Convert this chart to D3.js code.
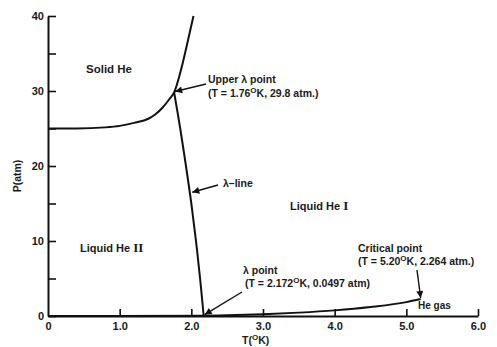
<!DOCTYPE html>
<html lang="en">
<head>
<meta charset="UTF-8">
<title>Helium phase diagram</title>
<script src="https://d3js.org/d3.v7.min.js"></script>
<style>
  body { margin: 0; background: #fff; }
  svg text { font-family: "Liberation Sans", Arial, sans-serif; font-weight: bold; fill: #1a1a1a; }
</style>
</head>
<body>
<svg id="chart" width="497" height="347"></svg>
<script>
// melting curve (solid / liquid), T in K, P in atm
var meltT = [0, 0.4, 0.8, 1.0, 1.2, 1.4, 1.5, 1.6, 1.7, 1.76, 1.85, 1.94, 2.03];
var meltP = [25.0, 25.0, 25.15, 25.35, 25.75, 26.3, 26.9, 27.8, 29.0, 29.8, 32.6, 36.2, 40.0];
// lambda line
var lamT = [1.76, 1.845, 1.925, 2.0, 2.065, 2.122, 2.172];
var lamP = [29.8, 25.0, 20.0, 15.0, 10.0, 5.0, 0.05];
// vapour pressure curve up to the critical point
var vapT = [0, 2.172, 2.5, 3.0, 3.5, 4.0, 4.5, 5.0, 5.2];
var vapP = [0, 0.05, 0.1, 0.24, 0.45, 0.75, 1.2, 1.85, 2.264];

var xTicks = [0, 1, 2, 3, 4, 5, 6];
var xLabels = ["0", "1.0", "2.0", "3.0", "4.0", "5.0", "6.0"];
var yTicks = [0, 5, 10, 15, 20, 25, 30, 35, 40];

var svg = d3.select("#chart");
var x = d3.scaleLinear().domain([0, 6]).range([48, 478]);
var y = d3.scaleLinear().domain([0, 40]).range([316, 16]);

// axes, ticks point inward
var xAxis = d3.axisBottom(x)
  .tickValues(xTicks)
  .tickSizeInner(-7).tickSizeOuter(0).tickPadding(6)
  .tickFormat(function(d, i) { return xLabels[i]; });
var yAxis = d3.axisLeft(y)
  .tickValues(yTicks)
  .tickSizeInner(-8).tickSizeOuter(0).tickPadding(4)
  .tickFormat(function(d) { return d % 10 === 0 ? d : ""; });

var gx = svg.append("g").attr("transform", "translate(0," + y(0) + ")").call(xAxis);
var gy = svg.append("g").attr("transform", "translate(" + x(0) + ",0)").call(yAxis);
[gx, gy].forEach(function(g) {
  g.select(".domain").attr("stroke", "#111").attr("stroke-width", 2);
  g.selectAll(".tick line").attr("stroke", "#111").attr("stroke-width", 1.6);
  g.selectAll(".tick text").attr("font-size", 11).attr("font-family", null).attr("fill", null);
});
gx.selectAll(".tick").filter(function(d) { return d === 0; }).select("line").remove();

// curves
var line = d3.line().x(function(d) { return x(d[0]); }).y(function(d) { return y(d[1]); })
  .curve(d3.curveMonotoneX);
function pairs(a, b) { return a.map(function(v, i) { return [v, b[i]]; }); }

svg.append("path").datum(pairs(meltT, meltP)).attr("d", line)
  .attr("fill", "none").attr("stroke", "#111").attr("stroke-width", 2);
svg.append("path").datum(pairs(lamT, lamP))
  .attr("d", d3.line().x(function(d) { return x(d[0]); }).y(function(d) { return y(d[1]); }).curve(d3.curveCatmullRom))
  .attr("fill", "none").attr("stroke", "#111").attr("stroke-width", 2);
svg.append("path").datum(pairs(vapT, vapP)).attr("d", line)
  .attr("fill", "none").attr("stroke", "#111").attr("stroke-width", 2);

// arrow marker
svg.append("defs").append("marker")
  .attr("id", "head").attr("viewBox", "0 0 10 10").attr("refX", 10).attr("refY", 5)
  .attr("markerWidth", 9).attr("markerHeight", 7).attr("markerUnits", "userSpaceOnUse")
  .attr("orient", "auto")
  .append("path").attr("d", "M0,0L10,5L0,10z").attr("fill", "#111");

function arrow(x1, y1, x2, y2) {
  svg.append("line").attr("x1", x1).attr("y1", y1).attr("x2", x2).attr("y2", y2)
    .attr("stroke", "#111").attr("stroke-width", 1.4).attr("marker-end", "url(#head)");
}

// text with a superscript O for degrees
function label(xp, yp, parts, size) {
  var t = svg.append("text").attr("x", xp).attr("y", yp).attr("font-size", size || 10.5);
  var back = 0;
  parts.forEach(function(p) {
    var s;
    if (typeof p === "string") s = t.append("tspan").text(p);
    else if (p.sup) { s = t.append("tspan").attr("font-size", 8).text(p.sup); s.attr("dy", -4); back = 4; return; }
    else if (p.serif) s = t.append("tspan").attr("font-family", "'Liberation Serif', serif").attr("font-size", 13).text(p.serif);
    if (back) { s.attr("dy", back); back = 0; }
  });
  return t;
}

label(86, 73, ["Solid  He"], 11.5);
label(208, 83, ["Upper  λ  point"]);
label(208, 97, ["(T = 1.76", {sup: "O"}, "K, 29.8 atm.)"]);
arrow(206, 84, x(1.76) + 1, y(29.8) - 1);

label(223, 187, ["λ–line"]);
arrow(218, 185, x(1.985) + 2, y(16.5));

label(80, 252, ["Liquid  He ", {serif: "II"}], 11);
label(290, 210, ["Liquid  He ", {serif: "I"}], 11);

label(243, 274, ["λ point"]);
label(245, 287, ["(T = 2.172", {sup: "O"}, "K, 0.0497 atm)"]);
arrow(242, 292, x(2.172) + 1, y(0.05) - 1);

label(358, 252, ["Critical point"]);
label(358, 265, ["(T = 5.20", {sup: "O"}, "K, 2.264 atm.)"]);
arrow(417, 270, x(5.2), y(2.264) - 1);

label(418, 309, ["He gas"], 10);

// axis titles
label(242, 344, ["T(", {sup: "O"}, "K)"]);
svg.append("text").attr("transform", "translate(21,176) rotate(-90)")
  .attr("text-anchor", "middle").attr("font-size", 10.5).text("P(atm)");
</script>
</body>
</html>
